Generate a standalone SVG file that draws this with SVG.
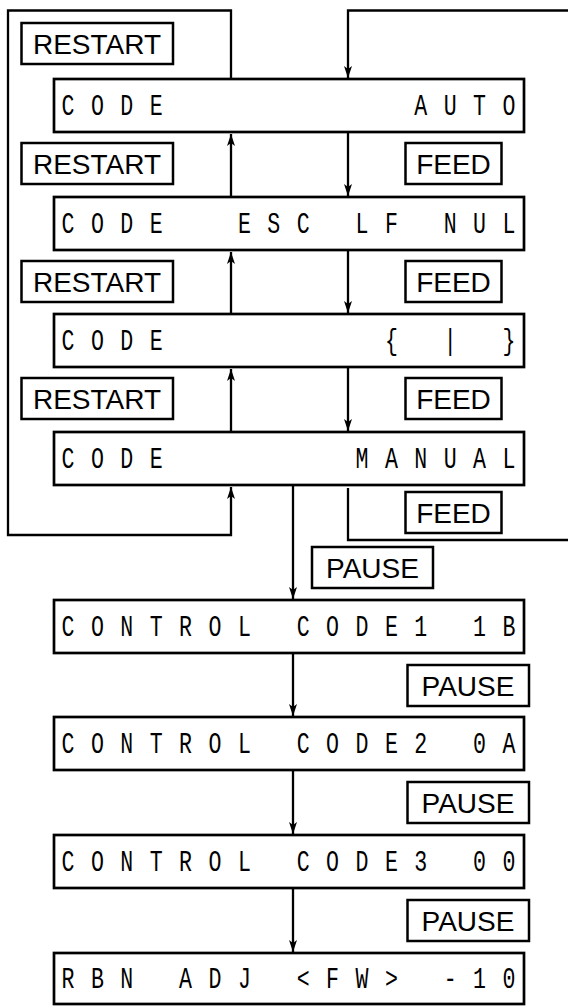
<svg xmlns="http://www.w3.org/2000/svg" width="568" height="1006" viewBox="0 0 568 1006">
<style>
.box{fill:#fff;stroke:#000;stroke-width:2.7}
.lbl{fill:#fff;stroke:#000;stroke-width:2.5}
.lcd{font-family:"Liberation Mono","DejaVu Sans Mono",monospace;font-size:30px;text-anchor:middle;fill:#000}
.key{font-family:"Liberation Sans",Arial,sans-serif;font-size:28px;text-anchor:middle;fill:#000}
.ln{fill:none;stroke:#000;stroke-width:2.3}
</style>
<defs>
<marker id="ah" viewBox="0 0 12 8" refX="12" refY="4" markerWidth="12" markerHeight="8" markerUnits="userSpaceOnUse" orient="auto">
<path d="M0,0 L12,4 L0,8 L3,4 Z" fill="#000"/>
</marker>
</defs>
<g id="connectors">
<path class="ln" d="M231,79 V10.5 H8 V535 H231 V487" marker-end="url(#ah)"/>
<path class="ln" d="M568,10.5 H348 V78" marker-end="url(#ah)"/>
<path class="ln" d="M348,488 V540 H568"/>
<path class="ln" d="M231,197 V134" marker-end="url(#ah)"/>
<path class="ln" d="M231,314 V252" marker-end="url(#ah)"/>
<path class="ln" d="M231,432 V369" marker-end="url(#ah)"/>
<path class="ln" d="M348,132 V196" marker-end="url(#ah)"/>
<path class="ln" d="M348,250 V313" marker-end="url(#ah)"/>
<path class="ln" d="M348,367 V431" marker-end="url(#ah)"/>
<path class="ln" d="M293,485 V599" marker-end="url(#ah)"/>
<path class="ln" d="M293,653 V716" marker-end="url(#ah)"/>
<path class="ln" d="M293,770 V834" marker-end="url(#ah)"/>
<path class="ln" d="M293,888 V952" marker-end="url(#ah)"/>
</g>
<g id="restart1"><rect class="lbl" x="21.5" y="23" width="151.5" height="41"/><text class="key" x="97" y="54">RESTART</text></g>
<g id="restart2"><rect class="lbl" x="21.5" y="143" width="151.5" height="41"/><text class="key" x="97" y="174">RESTART</text></g>
<g id="restart3"><rect class="lbl" x="21.5" y="261" width="151.5" height="41"/><text class="key" x="97" y="292">RESTART</text></g>
<g id="restart4"><rect class="lbl" x="21.5" y="378" width="151.5" height="41"/><text class="key" x="97" y="409">RESTART</text></g>
<g id="feed1"><rect class="lbl" x="405.5" y="143" width="96" height="41"/><text class="key" x="453.5" y="174">FEED</text></g>
<g id="feed2"><rect class="lbl" x="405.5" y="261" width="96" height="41"/><text class="key" x="453.5" y="292">FEED</text></g>
<g id="feed3"><rect class="lbl" x="405.5" y="378" width="96" height="41"/><text class="key" x="453.5" y="409">FEED</text></g>
<g id="feed4"><rect class="lbl" x="405.5" y="492" width="96" height="41"/><text class="key" x="453.5" y="523">FEED</text></g>
<g id="pause1"><rect class="lbl" x="312" y="547" width="121" height="41"/><text class="key" x="372.5" y="578">PAUSE</text></g>
<g id="pause2"><rect class="lbl" x="407.5" y="665" width="121.5" height="41"/><text class="key" x="468" y="696">PAUSE</text></g>
<g id="pause3"><rect class="lbl" x="407.5" y="782" width="121.5" height="41"/><text class="key" x="468" y="813">PAUSE</text></g>
<g id="pause4"><rect class="lbl" x="407.5" y="900" width="121.5" height="41"/><text class="key" x="468" y="931">PAUSE</text></g>
<g id="box1"><rect class="box" x="54" y="79" width="470" height="53"/><text class="lcd" transform="scale(0.72 1)" y="115" x="94.44 135.28 176.11 216.94 584.44 625.28 666.11 706.94">CODEAUTO</text></g>
<g id="box2"><rect class="box" x="54" y="197" width="470" height="53"/><text class="lcd" transform="scale(0.72 1)" y="233" x="94.44 135.28 176.11 216.94 339.44 380.28 421.11 502.78 543.61 625.28 666.11 706.94">CODEESCLFNUL</text></g>
<g id="box3"><rect class="box" x="54" y="314" width="470" height="53"/><text class="lcd" transform="scale(0.72 1)" y="350" x="94.44 135.28 176.11 216.94 543.61 625.28 706.94">CODE{|}</text></g>
<g id="box4"><rect class="box" x="54" y="432" width="470" height="53"/><text class="lcd" transform="scale(0.72 1)" y="468" x="94.44 135.28 176.11 216.94 502.78 543.61 584.44 625.28 666.11 706.94">CODEMANUAL</text></g>
<g id="box5"><rect class="box" x="54" y="600" width="470" height="53"/><text class="lcd" transform="scale(0.72 1)" y="636" x="94.44 135.28 176.11 216.94 257.78 298.61 339.44 421.11 461.94 502.78 543.61 584.44 666.11 706.94">CONTROLCODE11B</text></g>
<g id="box6"><rect class="box" x="54" y="717" width="470" height="53"/><text class="lcd" transform="scale(0.72 1)" y="753" x="94.44 135.28 176.11 216.94 257.78 298.61 339.44 421.11 461.94 502.78 543.61 584.44 666.11 706.94">CONTROLCODE20A</text></g>
<g id="box7"><rect class="box" x="54" y="835" width="470" height="53"/><text class="lcd" transform="scale(0.72 1)" y="871" x="94.44 135.28 176.11 216.94 257.78 298.61 339.44 421.11 461.94 502.78 543.61 584.44 666.11 706.94">CONTROLCODE300</text></g>
<g id="box8"><rect class="box" x="54" y="953" width="470" height="51"/><text class="lcd" transform="scale(0.72 1)" y="988" x="94.44 135.28 176.11 257.78 298.61 339.44 421.11 461.94 502.78 543.61 625.28 666.11 706.94">RBNADJ&lt;FW&gt;-10</text></g>
</svg>
